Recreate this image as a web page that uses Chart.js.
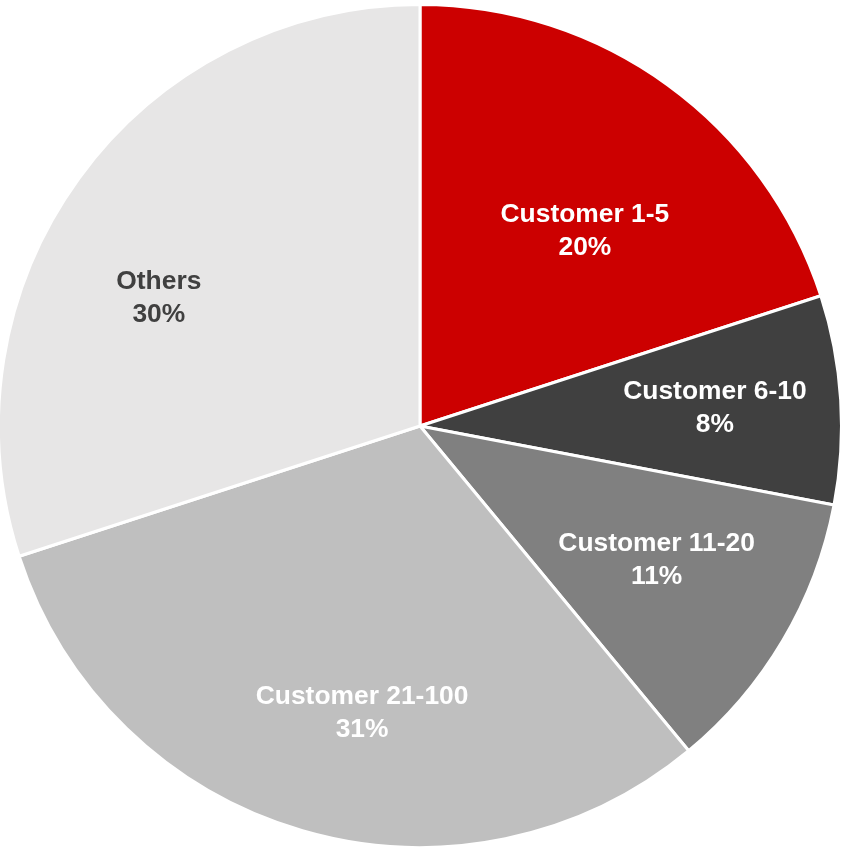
<!DOCTYPE html>
<html>
<head>
<meta charset="utf-8">
<script src="https://cdn.jsdelivr.net/npm/chart.js@4.4.1/dist/chart.umd.min.js"></script>
<style>
  html, body { margin: 0; padding: 0; background: #ffffff; }
  #wrap { width: 846px; height: 850px; }
</style>
</head>
<body>
<div id="wrap"><canvas id="pie"></canvas></div>
<script>
// Customer concentration shares
const categories = ['Customer 1-5', 'Customer 6-10', 'Customer 11-20', 'Customer 21-100', 'Others'];
const shares = [20, 8, 11, 31, 30];
const sliceColors = ['#CC0000', '#404040', '#808080', '#BFBFBF', '#E7E6E6'];
const labelColors = ['#FFFFFF', '#FFFFFF', '#FFFFFF', '#FFFFFF', '#404040'];

// Label placement inside each slice: radial fraction and angular nudge (degrees)
const labelPlacement = [
  { r: 0.606, nudge: 4.2 },
  { r: 0.701, nudge: 0.1 },
  { r: 0.645, nudge: -1.1 },
  { r: 0.695, nudge: -4.8 },
  { r: 0.69, nudge: -9.9 }
];

const sliceLabels = {
  id: 'sliceLabels',
  afterDatasetsDraw(chart) {
    const ctx = chart.ctx;
    const meta = chart.getDatasetMeta(0);
    ctx.save();
    ctx.font = 'bold 26.4px "Liberation Sans", Arial, sans-serif';
    ctx.textAlign = 'center';
    ctx.textBaseline = 'middle';
    meta.data.forEach((arc, i) => {
      const p = arc.getProps(['x', 'y', 'startAngle', 'endAngle', 'outerRadius'], true);
      const mid = (p.startAngle + p.endAngle) / 2 + labelPlacement[i].nudge * Math.PI / 180;
      const rr = p.outerRadius * labelPlacement[i].r;
      const cx = p.x + Math.cos(mid) * rr;
      const cy = p.y + Math.sin(mid) * rr;
      ctx.fillStyle = labelColors[i];
      ctx.fillText(categories[i], cx, cy - 16.5);
      ctx.fillText(shares[i] + '%', cx, cy + 16.5);
    });
    ctx.restore();
  }
};

new Chart(document.getElementById('pie'), {
  type: 'pie',
  data: {
    labels: categories,
    datasets: [{
      data: shares,
      backgroundColor: sliceColors,
      borderColor: '#FFFFFF',
      borderWidth: 3
    }]
  },
  options: {
    responsive: true,
    maintainAspectRatio: false,
    animation: false,
    radius: 421.5,
    layout: { padding: { left: 0, right: 6, top: 6, bottom: 4 } },
    plugins: {
      legend: { display: false },
      tooltip: { enabled: false }
    }
  },
  plugins: [sliceLabels]
});
</script>
</body>
</html>
